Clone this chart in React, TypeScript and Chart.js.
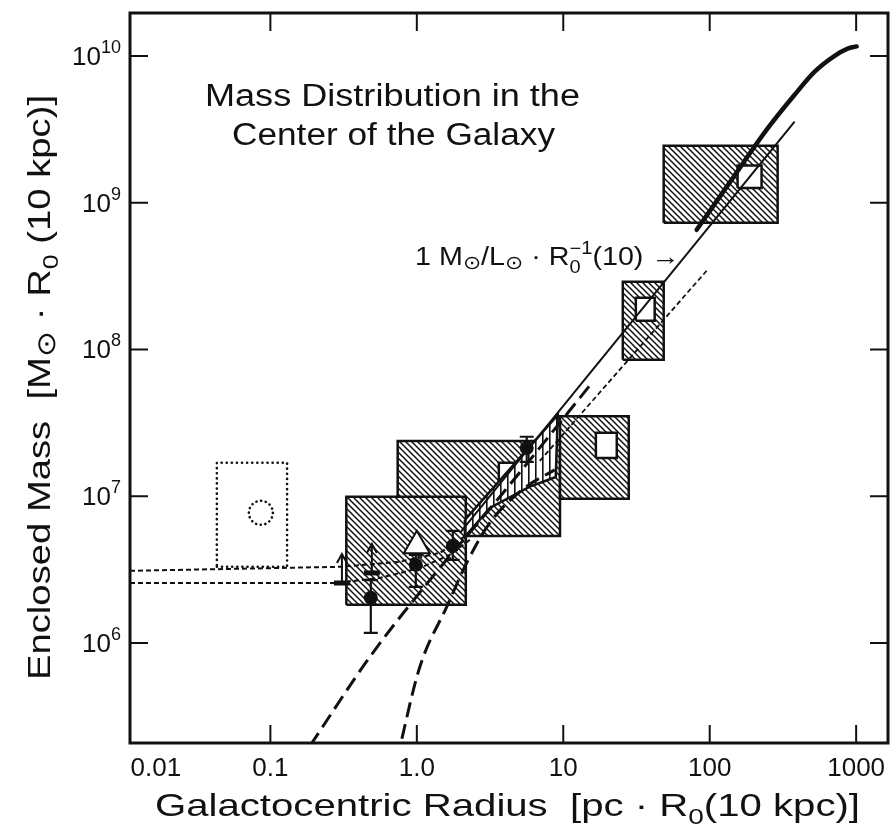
import React, { useEffect, useRef } from 'react';
import { Chart, registerables } from 'chart.js';

Chart.register(...registerables);

const FONT = '"Liberation Sans", Arial, Helvetica, sans-serif';
const INK = '#111';

// ---------- axes ----------
const xMin = 0.011;
const xMax = 1650;
const yMin = 2.08e5;
const yMax = 1.96e10;
const xTickValues = [0.1, 1, 10, 100, 1000];
const xLabelValues = [0.0165, 0.1, 1, 10, 100, 1000];
const xLabelTexts = ['0.01', '0.1', '1.0', '10', '100', '1000'];
const yTickValues = [1e6, 1e7, 1e8, 1e9, 1e10];
const yTickExponents = ['6', '7', '8', '9', '10'];

// ---------- hatched boxes [rMin, rMax, mMin, mMax] (paint order) ----------
const hatchedBoxes: number[][] = [
  [0.74, 9.5, 5.36e6, 2.38e7],
  [0.33, 2.16, 1.82e6, 9.9e6],
  [9.5, 28, 9.6e6, 3.5e7],
  [25.5, 48.5, 8.5e7, 2.89e8],
  [48.5, 291, 7.3e8, 2.44e9],
];
// ---------- white squares inside boxes ----------
const whiteSquares: number[][] = [
  [3.63, 5.05, 1.23e7, 1.69e7],
  [16.7, 23.2, 1.82e7, 2.7e7],
  [31.3, 42.1, 1.57e8, 2.25e8],
  [155, 226, 1.26e9, 1.79e9],
];
// ---------- dotted box + dotted circle ----------
const dottedBox = [0.0431, 0.13, 3.3e6, 1.69e7];
const dottedCircleR = 0.0861;
const dottedCircleM = 7.7e6;

// ---------- vertically hatched strip ----------
const stripR = [2.13, 9.17, 8.89, 5.91, 3.15, 2.13, 2.13];
const stripM = [6.89e6, 3.58e7, 1.35e7, 1.16e7, 8.32e6, 5.28e6, 6.89e6];

// ---------- curves ----------
const thickCurveR = [81.5, 141, 245, 380, 521, 713, 875, 1008];
const thickCurveM = [6.53e8, 1.43e9, 3.14e9, 5.43e9, 7.8e9, 1.0e10, 1.12e10, 1.16e10];
const mlLineR = [1.97, 380];
const mlLineM = [5.62e6, 3.56e9];
const shortDashR = [6.91, 95.4];
const shortDashM = [1.74e7, 3.44e8];
const longDashAR = [0.187, 0.478, 1.227, 3.69, 15.9];
const longDashAM = [2.0e5, 8.03e5, 2.68e6, 9.9e6, 6.01e7];
const longDashBR = [0.73, 1.048, 1.6, 2.19, 3.15, 5.46, 8.75];
const longDashBM = [1.59e5, 6.86e5, 1.76e6, 3.51e6, 6.58e6, 1.14e7, 1.51e7];
const upperDotR = [0.011, 0.298, 0.765, 1.44, 2.3];
const upperDotM = [3.1e6, 3.3e6, 3.57e6, 4.11e6, 5.62e6];
const lowerDotR = [0.011, 0.276, 0.559, 1.048, 1.68, 2.3];
const lowerDotM = [2.56e6, 2.56e6, 2.77e6, 3.24e6, 3.98e6, 5.04e6];

// ---------- measurements ----------
const pointR = [0.485, 0.984, 1.76, 5.63];
const pointM = [2.03e6, 3.4e6, 4.58e6, 2.13e7];
const pointLo = [1.17e6, 2.41e6, 3.68e6, 1.71e7];
const pointHi = [2.68e6, 3.98e6, 5.8e6, 2.54e7];
const triangleR = [1.0];
const triangleM = [4.6e6];
const limitR = [0.308, 0.493];
const limitM = [2.56e6, 3.0e6];

type Seg = { t: string; s?: number; dy?: number; stack?: boolean };

function drawRich(ctx: CanvasRenderingContext2D, segs: Seg[], x: number, y: number, size: number, targetW: number, angle = 0) {
  ctx.save();
  const widths = segs.map((sg) => {
    ctx.font = `${size * (sg.s ?? 1)}px ${FONT}`;
    return ctx.measureText(sg.t).width;
  });
  let total = 0;
  segs.forEach((sg, i) => {
    if (!sg.stack) total += widths[i];
  });
  ctx.translate(x, y);
  if (angle) ctx.rotate(angle);
  ctx.scale(targetW / total, 1);
  ctx.textAlign = 'left';
  ctx.textBaseline = 'alphabetic';
  ctx.fillStyle = INK;
  let cx = 0;
  segs.forEach((sg, i) => {
    ctx.font = `${size * (sg.s ?? 1)}px ${FONT}`;
    ctx.fillText(sg.t, cx, (sg.dy ?? 0) * size);
    if (!sg.stack) cx += widths[i];
  });
  ctx.restore();
}

const pts = (rs: number[], ms: number[]) => rs.map((r, i) => ({ x: r, y: ms[i] }));
const rect = (b: number[]) => [
  { x: b[0], y: b[2] },
  { x: b[1], y: b[2] },
  { x: b[1], y: b[3] },
  { x: b[0], y: b[3] },
  { x: b[0], y: b[2] },
];

const decorPlugin = {
  id: 'decor',
  afterDatasetsDraw(chart: any) {
    const { ctx, chartArea: a } = chart;
    const px = (v: number) => chart.scales.x.getPixelForValue(v);
    const py = (v: number) => chart.scales.y.getPixelForValue(v);
    ctx.save();
    ctx.beginPath();
    ctx.rect(a.left, a.top, a.right - a.left, a.bottom - a.top);
    ctx.clip();
    ctx.strokeStyle = INK;
    ctx.fillStyle = INK;
    // dotted circle
    ctx.lineWidth = 2.6;
    ctx.lineCap = 'round';
    ctx.setLineDash([0.1, 4.6]);
    ctx.beginPath();
    ctx.arc(px(dottedCircleR), py(dottedCircleM), 12, 0, Math.PI * 2);
    ctx.stroke();
    ctx.setLineDash([]);
    ctx.lineCap = 'butt';
    // error bars
    ctx.lineWidth = 2.2;
    pointR.forEach((r, i) => {
      const X = px(r);
      const Ylo = py(pointLo[i]);
      const Yhi = py(pointHi[i]);
      ctx.beginPath();
      ctx.moveTo(X, Ylo);
      ctx.lineTo(X, Yhi);
      ctx.moveTo(X - 7, Ylo);
      ctx.lineTo(X + 7, Ylo);
      ctx.moveTo(X - 7, Yhi);
      ctx.lineTo(X + 7, Yhi);
      ctx.stroke();
    });
    // lower limits (bar + arrow up)
    limitR.forEach((r, i) => {
      const X = px(r);
      const Y = py(limitM[i]);
      ctx.fillRect(X - 8, Y - 2.5, 16, 5);
      ctx.lineWidth = 2;
      ctx.beginPath();
      ctx.moveTo(X, Y);
      ctx.lineTo(X, Y - 28);
      ctx.moveTo(X - 5, Y - 20);
      ctx.lineTo(X, Y - 29);
      ctx.lineTo(X + 5, Y - 20);
      ctx.stroke();
    });
    ctx.restore();

    // frame and inward ticks
    ctx.save();
    ctx.strokeStyle = INK;
    ctx.lineWidth = 3;
    ctx.strokeRect(a.left, a.top, a.right - a.left, a.bottom - a.top);
    ctx.lineWidth = 2;
    ctx.beginPath();
    xTickValues.forEach((v) => {
      const X = px(v);
      ctx.moveTo(X, a.bottom);
      ctx.lineTo(X, a.bottom - 18);
      ctx.moveTo(X, a.top);
      ctx.lineTo(X, a.top + 18);
    });
    yTickValues.forEach((v) => {
      const Y = py(v);
      ctx.moveTo(a.left, Y);
      ctx.lineTo(a.left + 18, Y);
      ctx.moveTo(a.right, Y);
      ctx.lineTo(a.right - 18, Y);
    });
    ctx.stroke();

    // tick labels
    ctx.fillStyle = INK;
    ctx.textBaseline = 'alphabetic';
    ctx.textAlign = 'center';
    ctx.font = `26px ${FONT}`;
    xLabelValues.forEach((v, i) => {
      ctx.fillText(xLabelTexts[i], px(v), 776);
    });
    ctx.textAlign = 'left';
    yTickValues.forEach((v, i) => {
      const Y = py(v);
      const exp = yTickExponents[i];
      ctx.font = `18px ${FONT}`;
      const ew = ctx.measureText(exp).width;
      ctx.font = `26px ${FONT}`;
      const bw = ctx.measureText('10').width;
      const right = 121;
      ctx.fillText('10', right - ew - bw, Y + 9);
      ctx.font = `18px ${FONT}`;
      ctx.fillText(exp, right - ew, Y - 3);
    });
    ctx.restore();

    // texts
    drawRich(ctx, [{ t: 'Mass Distribution in the' }], 205, 106, 31, 375);
    drawRich(ctx, [{ t: 'Center of the Galaxy' }], 232, 145, 31, 323);
    drawRich(
      ctx,
      [
        { t: '1 M' },
        { t: '\u2299', s: 0.75, dy: 0.15 },
        { t: '/L' },
        { t: '\u2299', s: 0.75, dy: 0.15 },
        { t: ' \u00b7 R' },
        { t: '0', s: 0.7, dy: 0.3, stack: true },
        { t: '\u22121', s: 0.7, dy: -0.45 },
        { t: '(10) \u2192' },
      ],
      415,
      265,
      25,
      265
    );
    drawRich(
      ctx,
      [{ t: 'Galactocentric Radius  [pc \u00b7 R' }, { t: '0', s: 0.7, dy: 0.25 }, { t: '(10 kpc)]' }],
      155,
      816,
      32,
      705
    );
    drawRich(
      ctx,
      [
        { t: 'Enclosed Mass  [M' },
        { t: '\u2299', s: 0.8, dy: 0.15 },
        { t: ' \u00b7 R' },
        { t: '0', s: 0.7, dy: 0.25 },
        { t: ' (10 kpc)]' },
      ],
      50,
      680,
      32,
      585,
      -Math.PI / 2
    );
  },
};

export default function App() {
  const ref = useRef<HTMLCanvasElement | null>(null);
  useEffect(() => {
    const canvas = ref.current!;
    const ctx0 = canvas.getContext('2d')!;

    const tile = document.createElement('canvas');
    tile.width = 6;
    tile.height = 6;
    const g = tile.getContext('2d')!;
    g.fillStyle = '#fff';
    g.fillRect(0, 0, 6, 6);
    g.strokeStyle = INK;
    g.lineWidth = 1.5;
    g.beginPath();
    g.moveTo(-1, -1);
    g.lineTo(7, 7);
    g.moveTo(-1, 5);
    g.lineTo(1, 7);
    g.moveTo(5, -1);
    g.lineTo(7, 1);
    g.stroke();
    const diag = ctx0.createPattern(tile, 'repeat')!;

    const vt = document.createElement('canvas');
    vt.width = 7;
    vt.height = 7;
    const v = vt.getContext('2d')!;
    v.fillStyle = '#fff';
    v.fillRect(0, 0, 7, 7);
    v.fillStyle = INK;
    v.fillRect(3, 0, 1.6, 7);
    const vert = ctx0.createPattern(vt, 'repeat')!;

    const list: any[] = [];
    const line = (data: any[], w: number, dash: number[] = [], extra: any = {}) => ({
      data,
      borderColor: INK,
      borderWidth: w,
      borderDash: dash,
      pointRadius: 0,
      fill: false,
      tension: 0,
      ...extra,
    });
    hatchedBoxes.forEach((b) => list.push(line(rect(b), 2.5, [], { fill: 'shape', backgroundColor: diag })));
    list.push(line(rect(dottedBox), 2.6, [0.1, 5], { borderCapStyle: 'round' }));
    whiteSquares.forEach((b) => list.push(line(rect(b), 2.5, [], { fill: 'shape', backgroundColor: '#fff' })));
    list.push(line(pts(stripR, stripM), 2.5, [], { fill: 'shape', backgroundColor: vert }));
    list.push(line(pts(upperDotR, upperDotM), 2, [5, 3]));
    list.push(line(pts(lowerDotR, lowerDotM), 2, [5, 3]));
    list.push(line(pts(longDashAR, longDashAM), 3, [15, 7], { cubicInterpolationMode: 'monotone' }));
    list.push(line(pts(longDashBR, longDashBM), 3, [15, 7], { cubicInterpolationMode: 'monotone' }));
    list.push(line(pts(shortDashR, shortDashM), 1.8, [5, 3]));
    list.push(line(pts(mlLineR, mlLineM), 2));
    list.push(line(pts(thickCurveR, thickCurveM), 4.5, [], { cubicInterpolationMode: 'monotone', borderCapStyle: 'round' }));
    list.push({
      data: pts(triangleR, triangleM),
      showLine: false,
      pointStyle: 'triangle',
      pointRadius: 15,
      pointBackgroundColor: '#fff',
      pointBorderColor: INK,
      pointBorderWidth: 2,
    });
    list.push({
      data: pts(pointR, pointM),
      showLine: false,
      pointStyle: 'circle',
      pointRadius: 7,
      pointBackgroundColor: INK,
      pointBorderColor: INK,
      pointBorderWidth: 0,
    });
    list.forEach((d, i) => {
      d.order = list.length - i;
    });

    const chart = new Chart(canvas, {
      type: 'line',
      data: { datasets: list },
      options: {
        animation: false,
        responsive: false,
        devicePixelRatio: 1,
        events: [],
        layout: { autoPadding: false, padding: { top: 13, right: 6, left: 0, bottom: 0 } },
        plugins: { legend: { display: false }, tooltip: { enabled: false } },
        scales: {
          x: {
            type: 'logarithmic',
            min: xMin,
            max: xMax,
            ticks: { display: false },
            grid: { display: false },
            border: { display: false },
            afterFit: (s: any) => {
              s.height = 84;
            },
          },
          y: {
            type: 'logarithmic',
            min: yMin,
            max: yMax,
            ticks: { display: false },
            grid: { display: false },
            border: { display: false },
            afterFit: (s: any) => {
              s.width = 130;
            },
          },
        },
      } as any,
      plugins: [decorPlugin],
    });
    return () => chart.destroy();
  }, []);

  return (
    <div style={{ position: 'fixed', left: 0, top: 0, width: 894, height: 827, background: '#fff' }}>
      <canvas ref={ref} width={894} height={827} style={{ display: 'block' }} />
    </div>
  );
}
